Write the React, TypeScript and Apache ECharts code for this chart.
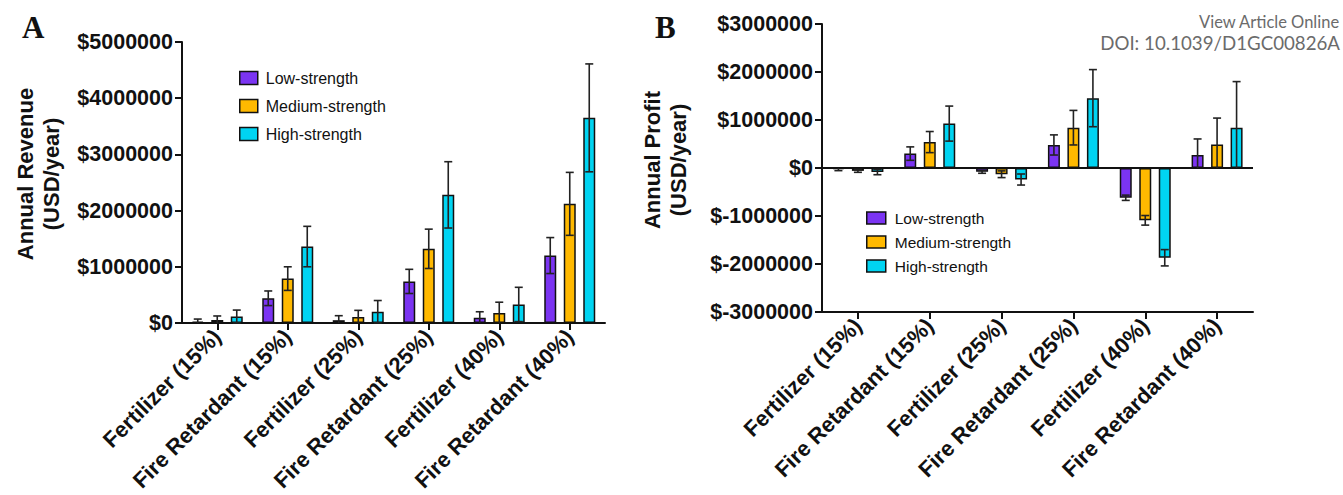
import React, { useEffect, useRef } from "react";
import * as echarts from "echarts";

const categories = [
  "Fertilizer (15%)",
  "Fire Retardant (15%)",
  "Fertilizer (25%)",
  "Fire Retardant (25%)",
  "Fertilizer (40%)",
  "Fire Retardant (40%)",
];
const seriesNames = ["Low-strength", "Medium-strength", "High-strength"];
const colors = ["#7B34F2", "#FFB900", "#00D4F2"];

// Panel A: annual revenue (USD/year)
const revenueLow = [25000, 440000, 50000, 740000, 95000, 1200000];
const revenueMed = [55000, 790000, 107000, 1320000, 180000, 2120000];
const revenueHigh = [115000, 1360000, 200000, 2280000, 330000, 3650000];
const revenueLowErr = [45000, 130000, 80000, 215000, 105000, 320000];
const revenueMedErr = [70000, 210000, 118000, 350000, 190000, 560000];
const revenueHighErr = [115000, 360000, 200000, 590000, 305000, 960000];

// Panel B: annual profit (USD/year)
const profitLow = [-25000, 300000, -80000, 480000, -620000, 270000];
const profitMed = [-60000, 540000, -130000, 840000, -1090000, 490000];
const profitHigh = [-85000, 925000, -240000, 1455000, -1870000, 840000];
const profitLowErr = [30000, 140000, 30000, 210000, 55000, 335000];
const profitMedErr = [30000, 220000, 70000, 360000, 100000, 550000];
const profitHighErr = [55000, 365000, 115000, 595000, 170000, 960000];

const revenueTicks = { min: 0, max: 5000000, interval: 1000000 };
const profitTicks = { min: -3000000, max: 3000000, interval: 1000000 };

const FONT = "'Liberation Sans', Arial, sans-serif";
const BAR_W = 12;
const BAR_STEP = 19.5;

function errData(vals: number[][], errs: number[][]) {
  const out: number[][] = [];
  vals.forEach((arr, s) => {
    arr.forEach((v, c) => out.push([c, s, v, errs[s][c]]));
  });
  return out;
}

function renderErr(params: any, api: any) {
  const cat = api.value(0);
  const s = api.value(1);
  const v = api.value(2);
  const e = api.value(3);
  const off = (s - 1) * BAR_STEP;
  const hi = v >= 0 ? v + e : v - e;
  let lo = v >= 0 ? v - e : v + e;
  let loCap = true;
  if ((v >= 0 && lo < 0) || (v < 0 && lo > 0)) {
    lo = 0;
    loCap = false;
  }
  const pHi = api.coord([cat, hi]);
  const pLo = api.coord([cat, lo]);
  const x = pHi[0] + off;
  const st = { stroke: "#222", lineWidth: 1.6 };
  const children: any[] = [
    { type: "line", shape: { x1: x, y1: pLo[1], x2: x, y2: pHi[1] }, style: st },
    { type: "line", shape: { x1: x - 4, y1: pHi[1], x2: x + 4, y2: pHi[1] }, style: st },
  ];
  if (loCap) {
    children.push({ type: "line", shape: { x1: x - 4, y1: pLo[1], x2: x + 4, y2: pLo[1] }, style: st });
  }
  return { type: "group", children };
}

function barSeries(name: string, idx: number, data: number[], axisIndex: number, extra: any = {}) {
  return {
    type: "bar",
    name,
    xAxisIndex: axisIndex,
    yAxisIndex: axisIndex,
    data,
    barWidth: BAR_W,
    barGap: "62.5%",
    itemStyle: { color: colors[idx], borderColor: "#111", borderWidth: 1.5 },
    z: 2,
    ...extra,
  };
}

const fmt = (v: number) => (v < 0 ? "$-" + Math.abs(v) : "$" + v);

export default function App() {
  const ref = useRef<HTMLDivElement>(null);
  useEffect(() => {
    if (!ref.current) return;
    const chart = echarts.init(ref.current, undefined, { renderer: "svg" });
    const axisLine = { show: true, lineStyle: { color: "#111", width: 2 } };
    const axisTick = { show: true, length: 7, lineStyle: { color: "#111", width: 2 } };
    const xLabel = {
      rotate: 45,
      fontSize: 22,
      fontWeight: "bold",
      fontFamily: FONT,
      color: "#111",
      margin: 10,
      interval: 0,
    };
    const yLabel = {
      fontSize: 21.5,
      fontWeight: "bold",
      fontFamily: FONT,
      color: "#111",
      margin: 9,
      formatter: fmt,
    };
    const option: any = {
      animation: false,
      backgroundColor: "#fff",
      grid: [
        { left: 182, top: 42, width: 423, height: 281 },
        { left: 822, top: 24, width: 431, height: 288 },
      ],
      xAxis: [
        {
          type: "category",
          gridIndex: 0,
          data: categories,
          axisLine,
          axisTick: { ...axisTick, alignWithLabel: true },
          axisLabel: xLabel,
        },
        {
          type: "category",
          gridIndex: 1,
          data: categories,
          axisLine: { ...axisLine, onZero: false },
          axisTick: { ...axisTick, alignWithLabel: true },
          axisLabel: xLabel,
        },
      ],
      yAxis: [
        {
          type: "value",
          gridIndex: 0,
          ...revenueTicks,
          axisLine,
          axisTick,
          splitLine: { show: false },
          axisLabel: yLabel,
        },
        {
          type: "value",
          gridIndex: 1,
          ...profitTicks,
          axisLine,
          axisTick,
          splitLine: { show: false },
          axisLabel: yLabel,
        },
      ],
      legend: [
        {
          data: seriesNames,
          orient: "vertical",
          left: 239,
          top: 70,
          padding: 0,
          itemWidth: 18,
          itemHeight: 13,
          itemGap: 12,
          icon: "rect",
          itemStyle: { borderColor: "#111", borderWidth: 1.5 },
          textStyle: { fontSize: 16, fontFamily: FONT, color: "#111", padding: [0, 0, 0, 3] },
          selectedMode: false,
        },
        {
          data: seriesNames,
          orient: "vertical",
          left: 866,
          top: 210,
          padding: 0,
          itemWidth: 19,
          itemHeight: 12,
          itemGap: 8,
          icon: "rect",
          itemStyle: { borderColor: "#111", borderWidth: 1.5 },
          textStyle: { fontSize: 15.5, fontFamily: FONT, color: "#111", padding: [0, 0, 0, 4] },
          selectedMode: false,
        },
      ],
      series: [
        barSeries(seriesNames[0], 0, revenueLow, 0),
        barSeries(seriesNames[1], 1, revenueMed, 0),
        barSeries(seriesNames[2], 2, revenueHigh, 0),
        {
          type: "custom",
          name: "revenue-err",
          xAxisIndex: 0,
          yAxisIndex: 0,
          renderItem: renderErr,
          encode: { x: 0, y: 2 },
          data: errData([revenueLow, revenueMed, revenueHigh], [revenueLowErr, revenueMedErr, revenueHighErr]),
          z: 5,
        },
        barSeries(seriesNames[0], 0, profitLow, 1, {
          markLine: {
            silent: true,
            symbol: "none",
            label: { show: false },
            lineStyle: { color: "#111", width: 2, type: "solid" },
            data: [{ yAxis: 0 }],
          },
        }),
        barSeries(seriesNames[1], 1, profitMed, 1),
        barSeries(seriesNames[2], 2, profitHigh, 1),
        {
          type: "custom",
          name: "profit-err",
          xAxisIndex: 1,
          yAxisIndex: 1,
          renderItem: renderErr,
          encode: { x: 0, y: 2 },
          data: errData([profitLow, profitMed, profitHigh], [profitLowErr, profitMedErr, profitHighErr]),
          z: 5,
        },
      ],
      graphic: [
        {
          type: "text",
          left: 22,
          top: 12,
          style: { text: "A", font: "bold 31px 'Liberation Serif', 'Times New Roman', serif", fill: "#111" },
        },
        {
          type: "text",
          left: 655,
          top: 12,
          style: { text: "B", font: "bold 31px 'Liberation Serif', 'Times New Roman', serif", fill: "#111" },
        },
        {
          type: "text",
          x: 38,
          y: 174,
          rotation: Math.PI / 2,
          style: {
            text: "Annual Revenue\n(USD/year)",
            font: "bold 22px 'Liberation Sans', Arial, sans-serif",
            fill: "#111",
            align: "center",
            verticalAlign: "middle",
            lineHeight: 26,
          },
        },
        {
          type: "text",
          x: 665,
          y: 160,
          rotation: Math.PI / 2,
          style: {
            text: "Annual Profit\n(USD/year)",
            font: "bold 22px 'Liberation Sans', Arial, sans-serif",
            fill: "#111",
            align: "center",
            verticalAlign: "middle",
            lineHeight: 26,
          },
        },
        {
          type: "text",
          right: 3,
          top: 13,
          style: { text: "View Article Online", font: "16.5px Lato, 'Open Sans', sans-serif", fill: "#6b6b6b" },
        },
        {
          type: "text",
          right: 3,
          top: 33,
          style: { text: "DOI: 10.1039/D1GC00826A", font: "18.7px Lato, 'Open Sans', sans-serif", fill: "#6b6b6b" },
        },
      ],
    };
    chart.setOption(option);
    return () => chart.dispose();
  }, []);
  return (
    <div
      ref={ref}
      style={{ position: "fixed", left: 0, top: 0, width: 1343, height: 495, background: "#fff" }}
    />
  );
}
